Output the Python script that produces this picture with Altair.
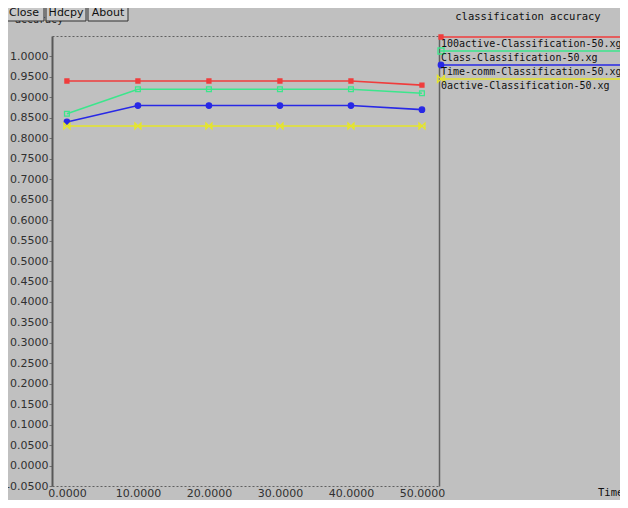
import altair as alt
import pandas as pd

# ---------------- data ----------------
x_values = [0, 10, 20, 30, 40, 50]
series_names = [
    "100active-Classification-50.xg",
    "Class-Classification-50.xg",
    "Time-comm-Classification-50.xg",
    "0active-Classification-50.xg",
]
acc_100active = [0.94, 0.94, 0.94, 0.94, 0.94, 0.93]
acc_class = [0.86, 0.92, 0.92, 0.92, 0.92, 0.91]
acc_timecomm = [0.84, 0.88, 0.88, 0.88, 0.88, 0.87]
acc_0active = [0.83, 0.83, 0.83, 0.83, 0.83, 0.83]

x_ticks = [0, 10, 20, 30, 40, 50]
y_ticks = [-0.05, 0.0, 0.05, 0.1, 0.15, 0.2, 0.25, 0.3, 0.35, 0.4, 0.45, 0.5,
           0.55, 0.6, 0.65, 0.7, 0.75, 0.8, 0.85, 0.9, 0.95, 1.0]
buttons = ["Close", "Hdcpy", "About"]
chart_title = "classification accuracy"
y_title = "accuracy"
x_title = "Time"

# ---------------- styling ----------------
colors = ["#f03c3c", "#3ce68c", "#2828e6", "#e6e628"]
shapes = ["square", "square", "circle", "M-1,-1L1,1L1,-1L-1,1Z"]
fills = ["#f03c3c", "transparent", "#2828e6", "transparent"]
sizes = [16, 36, 30, 50]

W, H = 387, 450
PAD = {"left": 44, "top": 28, "right": 181, "bottom": 14}
BG = "#c0c0c0"

rows = []
for name, vals in zip(series_names, [acc_100active, acc_class, acc_timecomm, acc_0active]):
    for xv, yv in zip(x_values, vals):
        rows.append({"series": name, "x": xv, "accuracy": yv})
df = pd.DataFrame(rows)

xs = alt.Scale(domain=[-2.1, 52.4], nice=False, zero=False)
ys = alt.Scale(domain=[-0.05, 1.05], nice=False, zero=False)

x_axis = alt.Axis(values=x_ticks, format=".4f", title=None, grid=False,
                  domainColor="#606060", domainDash=[2, 2], domainWidth=1,
                  ticks=False, labelPadding=1, labelFont="DejaVu Sans",
                  labelFontSize=11, labelColor="#303030", labelOverlap=False)
y_axis = alt.Axis(values=y_ticks, format=".4f", title=None, grid=False,
                  labelExpr="replace(datum.label, '\u2212', '-')",
                  domainColor="#585858", domainWidth=2, tickColor="#707070",
                  tickSize=3, labelPadding=1, labelFont="DejaVu Sans",
                  labelFontSize=11, labelColor="#303030", labelOverlap=False)

color_scale = alt.Scale(domain=series_names, range=colors)

lines = alt.Chart(df).mark_line(strokeWidth=1.6).encode(
    x=alt.X("x:Q", scale=xs, axis=x_axis),
    y=alt.Y("accuracy:Q", scale=ys, axis=y_axis),
    color=alt.Color("series:N", scale=color_scale, legend=None),
)

points = alt.Chart(df).mark_point(strokeWidth=1.3, opacity=1).encode(
    x=alt.X("x:Q", scale=xs, axis=None),
    y=alt.Y("accuracy:Q", scale=ys, axis=None),
    stroke=alt.Stroke("series:N", scale=color_scale, legend=None),
    fill=alt.Fill("series:N", scale=alt.Scale(domain=series_names, range=fills), legend=None),
    shape=alt.Shape("series:N", scale=alt.Scale(domain=series_names, range=shapes), legend=None),
    size=alt.Size("series:N", scale=alt.Scale(domain=series_names, range=sizes), legend=None),
)

frame = alt.Chart(df).mark_point(opacity=0).encode(
    x=alt.X("x:Q", scale=xs, axis=alt.Axis(orient="top", labels=False, ticks=False,
                                           domainDash=[2, 2], domainColor="#606060",
                                           domainWidth=1, title=None, grid=False)),
    y=alt.Y("accuracy:Q", scale=ys, axis=alt.Axis(orient="right", labels=False, ticks=False,
                                                  domainColor="#606060", domainWidth=1.5,
                                                  title=None, grid=False)),
)

one = alt.Data(values=[{"k": 1}])
layers = [lines, points, frame]

# legend (xgraph style: colored line, marker at left, name below)
for i, name in enumerate(series_names):
    ly = 1 + 14 * i
    layers.append(alt.Chart(one).mark_rule(color=colors[i], strokeWidth=1.6).encode(
        x=alt.value(388), x2=alt.value(575), y=alt.value(ly)))
    layers.append(alt.Chart(one).mark_point(
        shape=shapes[i], size=sizes[i], stroke=colors[i], fill=fills[i],
        strokeWidth=1.3, opacity=1).encode(x=alt.value(389), y=alt.value(ly)))
    layers.append(alt.Chart(one).mark_text(
        text=name, align="left", baseline="middle", font="DejaVu Sans Mono",
        fontSize=10, color="#101010").encode(x=alt.value(389), y=alt.value(ly + 7)))

# title, axis titles
layers.append(alt.Chart(one).mark_text(
    text=chart_title, align="center", baseline="middle", font="DejaVu Sans Mono",
    fontSize=10.5, color="#101010").encode(x=alt.value(476), y=alt.value(-19)))
layers.append(alt.Chart(one).mark_text(
    text=x_title, align="left", baseline="alphabetic", font="DejaVu Sans Mono",
    fontSize=10.5, color="#101010").encode(x=alt.value(546), y=alt.value(460)))
layers.append(alt.Chart(one).mark_text(
    text=y_title, align="left", baseline="alphabetic", font="DejaVu Sans Mono",
    fontSize=10, color="#202020").encode(x=alt.value(-37), y=alt.value(-13)))

# window buttons
bx = -48
for label in buttons:
    bw = 40
    layers.append(alt.Chart(one).mark_rect(
        fill="#c8c8c8", stroke="#303030", strokeWidth=1).encode(
        x=alt.value(bx), x2=alt.value(bx + bw), y=alt.value(-31), y2=alt.value(-15)))
    layers.append(alt.Chart(one).mark_rule(color="#f0f0f0", strokeWidth=1).encode(
        x=alt.value(bx + 1), x2=alt.value(bx + bw - 1), y=alt.value(-30)))
    layers.append(alt.Chart(one).mark_text(
        text=label, align="center", baseline="middle", font="DejaVu Sans",
        fontSize=11, color="#101010").encode(x=alt.value(bx + bw / 2), y=alt.value(-23)))
    bx += bw + 2

chart = alt.layer(*layers).resolve_axis(x="independent", y="independent").properties(
    width=W, height=H,
    autosize=alt.AutoSizeParams(type="none"),
    padding=PAD,
    background=BG,
).configure_view(stroke=None)

chart.save("out.html", embed_options={"renderer": "svg", "actions": False})
